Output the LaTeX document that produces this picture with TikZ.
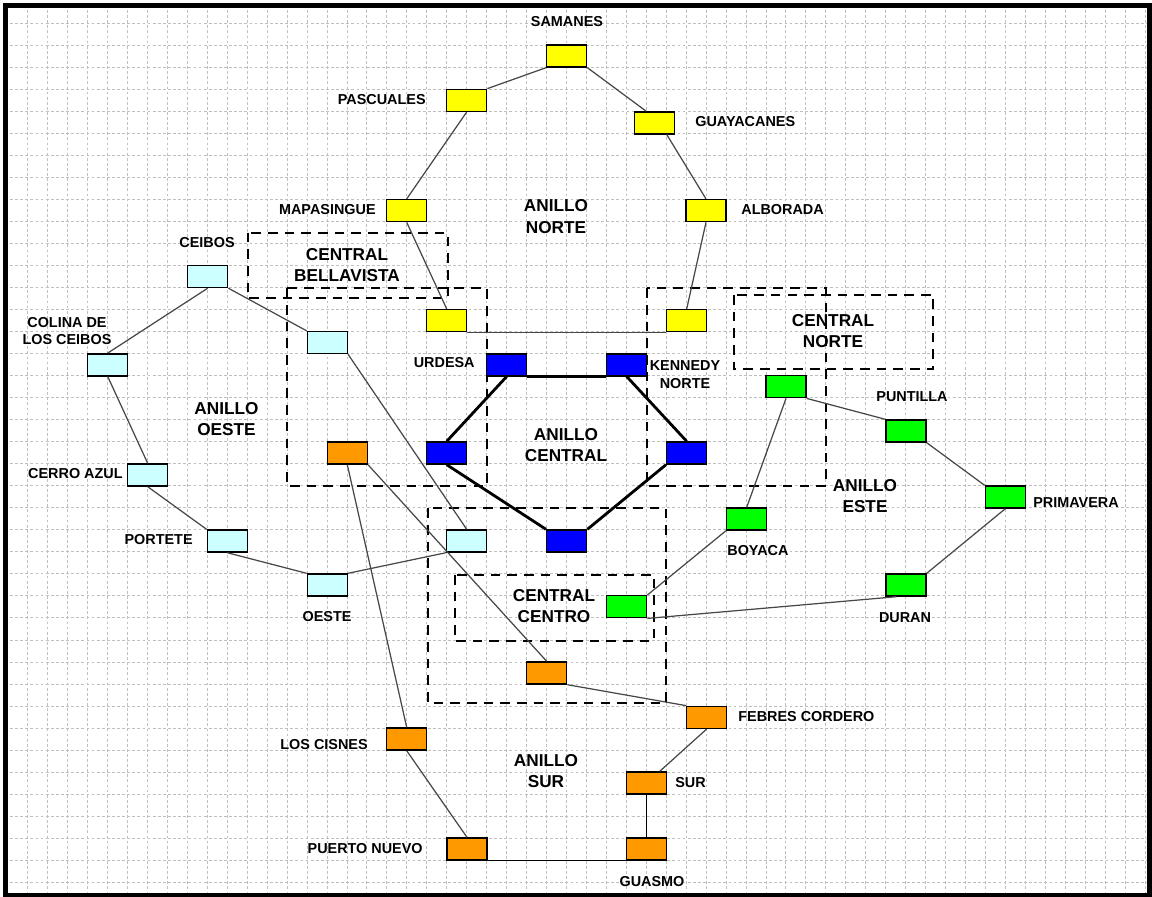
\documentclass[tikz,border=0pt]{standalone}
\usepackage{fontspec}
\setmainfont{Liberation Sans}
\usepackage{xcolor}
\usepackage{tikz}
\usetikzlibrary{calc}

\definecolor{amarillo}{HTML}{FFFF00}
\definecolor{azul}{HTML}{0000FF}
\definecolor{celeste}{HTML}{CCFFFF}
\definecolor{naranja}{HTML}{FF9900}
\definecolor{verde}{HTML}{00FF00}

\begin{document}
\begin{tikzpicture}[
    x=0.02cm, y=-0.02cm,
    est/.style={draw,line width=0.8pt,minimum width=0.8cm,minimum height=0.44cm,inner sep=0pt},
    lbl/.style={font=\fontsize{8.2}{10.2}\selectfont\bfseries,inner sep=0pt,align=center},
    anillo/.style={font=\fontsize{9.8}{12.4}\selectfont\bfseries,inner sep=0pt,align=center},
    zona/.style={draw,line width=1.1pt,dash pattern=on 5.5pt off 4pt},
    enlace/.style={draw=black!72,line width=0.7pt},
    central/.style={draw,line width=1.6pt},
    rejilla/.style={draw=black!25,line width=0.35pt,dash pattern=on 1.6pt off 1.3pt},
]
    \useasboundingbox (0,0) rectangle (1152,896);
    \fill[white] (0,0) rectangle (1152,896);
    \foreach \k in {1,...,57}
        \draw[rejilla] ({7.7+19.95*\k},5) -- ({7.7+19.95*\k},893);
    \foreach \k in {1,...,40}
        \draw[rejilla] (5,{0.94+22.03*\k}) -- (1149,{0.94+22.03*\k});
    \draw[line width=2.85pt] (5.6,5.2) rectangle (1149.5,895.5);

    \draw[zona] (247.7,232.7) rectangle (447.7,298);
    \draw[zona] (287.3,288.3) rectangle (486.7,486);
    \draw[zona] (646.7,288.3) rectangle (826,486);
    \draw[zona] (734,295) rectangle (933.3,369.3);
    \draw[zona] (428.3,508.3) rectangle (666,703.3);
    \draw[zona] (455,575) rectangle (654,640.7);

    \node[est,fill=amarillo] (samanes) at (566.7,56) {};
    \node[est,fill=amarillo] (pascuales) at (466.7,100.3) {};
    \node[est,fill=amarillo] (guayacanes) at (654.3,122.8) {};
    \node[est,fill=amarillo] (mapasingue) at (406.7,210.6) {};
    \node[est,fill=amarillo] (alborada) at (706,210.6) {};
    \node[est,fill=amarillo] (nUrdesa) at (446.7,320.6) {};
    \node[est,fill=amarillo] (nKennedy) at (686.7,320.6) {};

    \node[est,fill=azul] (cUrdesa) at (506.7,364.8) {};
    \node[est,fill=azul] (cKennedy) at (626.7,364.8) {};
    \node[est,fill=azul] (cOeste) at (446.7,453) {};
    \node[est,fill=azul] (cEste) at (686.7,453) {};
    \node[est,fill=azul] (cSur) at (566.7,541) {};

    \node[est,fill=celeste] (ceibos) at (207.7,276.5) {};
    \node[est,fill=celeste] (colina) at (107.7,364.8) {};
    \node[est,fill=celeste] (cerroazul) at (147.7,475) {};
    \node[est,fill=celeste] (portete) at (227.3,541) {};
    \node[est,fill=celeste] (oeste) at (327.3,585) {};
    \node[est,fill=celeste] (oBellavista) at (327.3,342.5) {};
    \node[est,fill=celeste] (oCentro) at (466.7,541) {};

    \node[est,fill=naranja] (sOeste) at (347.3,453) {};
    \node[est,fill=naranja] (sCentro) at (546.7,673) {};
    \node[est,fill=naranja] (febres) at (706.7,717.3) {};
    \node[est,fill=naranja] (cisnes) at (406.7,739) {};
    \node[est,fill=naranja] (sur) at (646.7,783) {};
    \node[est,fill=naranja] (puertonuevo) at (467,849) {};
    \node[est,fill=naranja] (guasmo) at (646.7,849) {};

    \node[est,fill=verde] (eNorte) at (786,386.7) {};
    \node[est,fill=verde] (puntilla) at (906,431) {};
    \node[est,fill=verde] (primavera) at (1005.3,497) {};
    \node[est,fill=verde] (duran) at (906,585) {};
    \node[est,fill=verde] (boyaca) at (746.7,519) {};
    \node[est,fill=verde] (eCentro) at (626.7,606.7) {};

    \draw[enlace] (samanes.south west) -- (pascuales.north east);
    \draw[enlace] (samanes.south east) -- ($(guayacanes.north west)!0.3!(guayacanes.north east)$);
    \draw[enlace] (pascuales.south) -- (mapasingue.north);
    \draw[enlace] ($(guayacanes.south west)!0.8!(guayacanes.south east)$) -- (alborada.north);
    \draw[enlace] (mapasingue.south) -- (nUrdesa.north);
    \draw[enlace] (alborada.south) -- (nKennedy.north);
    \draw[enlace] (nUrdesa.south east) -- (nKennedy.south west);

    \draw[central] (cUrdesa.south east) -- (cKennedy.south west);
    \draw[central] (cUrdesa.south) -- (cOeste.north);
    \draw[central] (cKennedy.south) -- (cEste.north);
    \draw[central] (cOeste.south) -- (cSur.north west);
    \draw[central] (cEste.south west) -- (cSur.north east);

    \draw[enlace] (ceibos.south) -- (colina.north);
    \draw[enlace] (ceibos.south east) -- (oBellavista.north west);
    \draw[enlace] (colina.south) -- (cerroazul.north);
    \draw[enlace] (cerroazul.south) -- (portete.north west);
    \draw[enlace] (portete.south) -- (oeste.north west);
    \draw[enlace] (oeste.north east) -- (oCentro.south west);
    \draw[enlace] (oBellavista.south east) -- (oCentro.north);

    \draw[enlace] (sOeste.south) -- (cisnes.north);
    \draw[enlace] (sOeste.south east) -- (sCentro.north);
    \draw[enlace] (sCentro.south east) -- (febres.north west);
    \draw[enlace] (febres.south) -- ($(sur.north)!0.63!(sur.north east)$);
    \draw[enlace,draw=black] (sur.south) -- (guasmo.north);
    \draw[enlace] (cisnes.south) -- (puertonuevo.north);
    \draw[enlace,draw=black] (puertonuevo.south east) -- (guasmo.south west);

    \draw[enlace] (eNorte.south east) -- (puntilla.north west);
    \draw[enlace] (puntilla.south east) -- (primavera.north west);
    \draw[enlace] (primavera.south) -- (duran.north east);
    \draw[enlace] ($(duran.south west)!0.27!(duran.south east)$) -- (eCentro.south east);
    \draw[enlace] (eNorte.south) -- (boyaca.north);
    \draw[enlace] (boyaca.south west) -- (eCentro.north east);

    \node[lbl] (tSamanes) at (567,22) {SAMANES};
    \node[lbl,anchor=east] (tPascuales) at (426,100) {PASCUALES};
    \node[lbl,anchor=west] (tGuayacanes) at (695,122) {GUAYACANES};
    \node[lbl,anchor=east] (tMapasingue) at (376,210) {MAPASINGUE};
    \node[lbl,anchor=west] (tAlborada) at (741,210) {ALBORADA};
    \node[lbl] (tCeibos) at (207,243) {CEIBOS};
    \node[lbl] (tColina) at (67,331) {COLINA DE\\LOS CEIBOS};
    \node[lbl,anchor=east] (tUrdesa) at (475,363) {URDESA};
    \node[lbl] (tKennedy) at (685,375) {KENNEDY\\NORTE};
    \node[lbl] (tPuntilla) at (912,397) {PUNTILLA};
    \node[lbl,anchor=east] (tCerroazul) at (123,474) {CERRO AZUL};
    \node[lbl,anchor=west] (tPrimavera) at (1033,502.7) {PRIMAVERA};
    \node[lbl,anchor=east] (tPortete) at (193,540) {PORTETE};
    \node[lbl,anchor=west] (tBoyaca) at (727,551) {BOYACA};
    \node[lbl] (tOeste) at (327,617) {OESTE};
    \node[lbl] (tDuran) at (905,618) {DURAN};
    \node[lbl,anchor=west] (tFebres) at (738,716.5) {FEBRES CORDERO};
    \node[lbl,anchor=east] (tCisnes) at (368,745) {LOS CISNES};
    \node[lbl,anchor=west] (tSur) at (675,782.5) {SUR};
    \node[lbl,anchor=east] (tPuertonuevo) at (423,849) {PUERTO NUEVO};
    \node[lbl] (tGuasmo) at (652,881.7) {GUASMO};

    \node[anillo] (aNorte) at (556,216.5) {ANILLO\\NORTE};
    \node[anillo] (aBellavista) at (347,265) {CENTRAL\\BELLAVISTA};
    \node[anillo] (aCnorte) at (833,331) {CENTRAL\\NORTE};
    \node[anillo] (aOeste) at (226.5,419) {ANILLO\\OESTE};
    \node[anillo] (aCentral) at (566,445) {ANILLO\\CENTRAL};
    \node[anillo] (aEste) at (865,496) {ANILLO\\ESTE};
    \node[anillo] (aCcentro) at (554,606) {CENTRAL\\CENTRO};
    \node[anillo] (aSur) at (546,771) {ANILLO\\SUR};
\end{tikzpicture}
\end{document}
